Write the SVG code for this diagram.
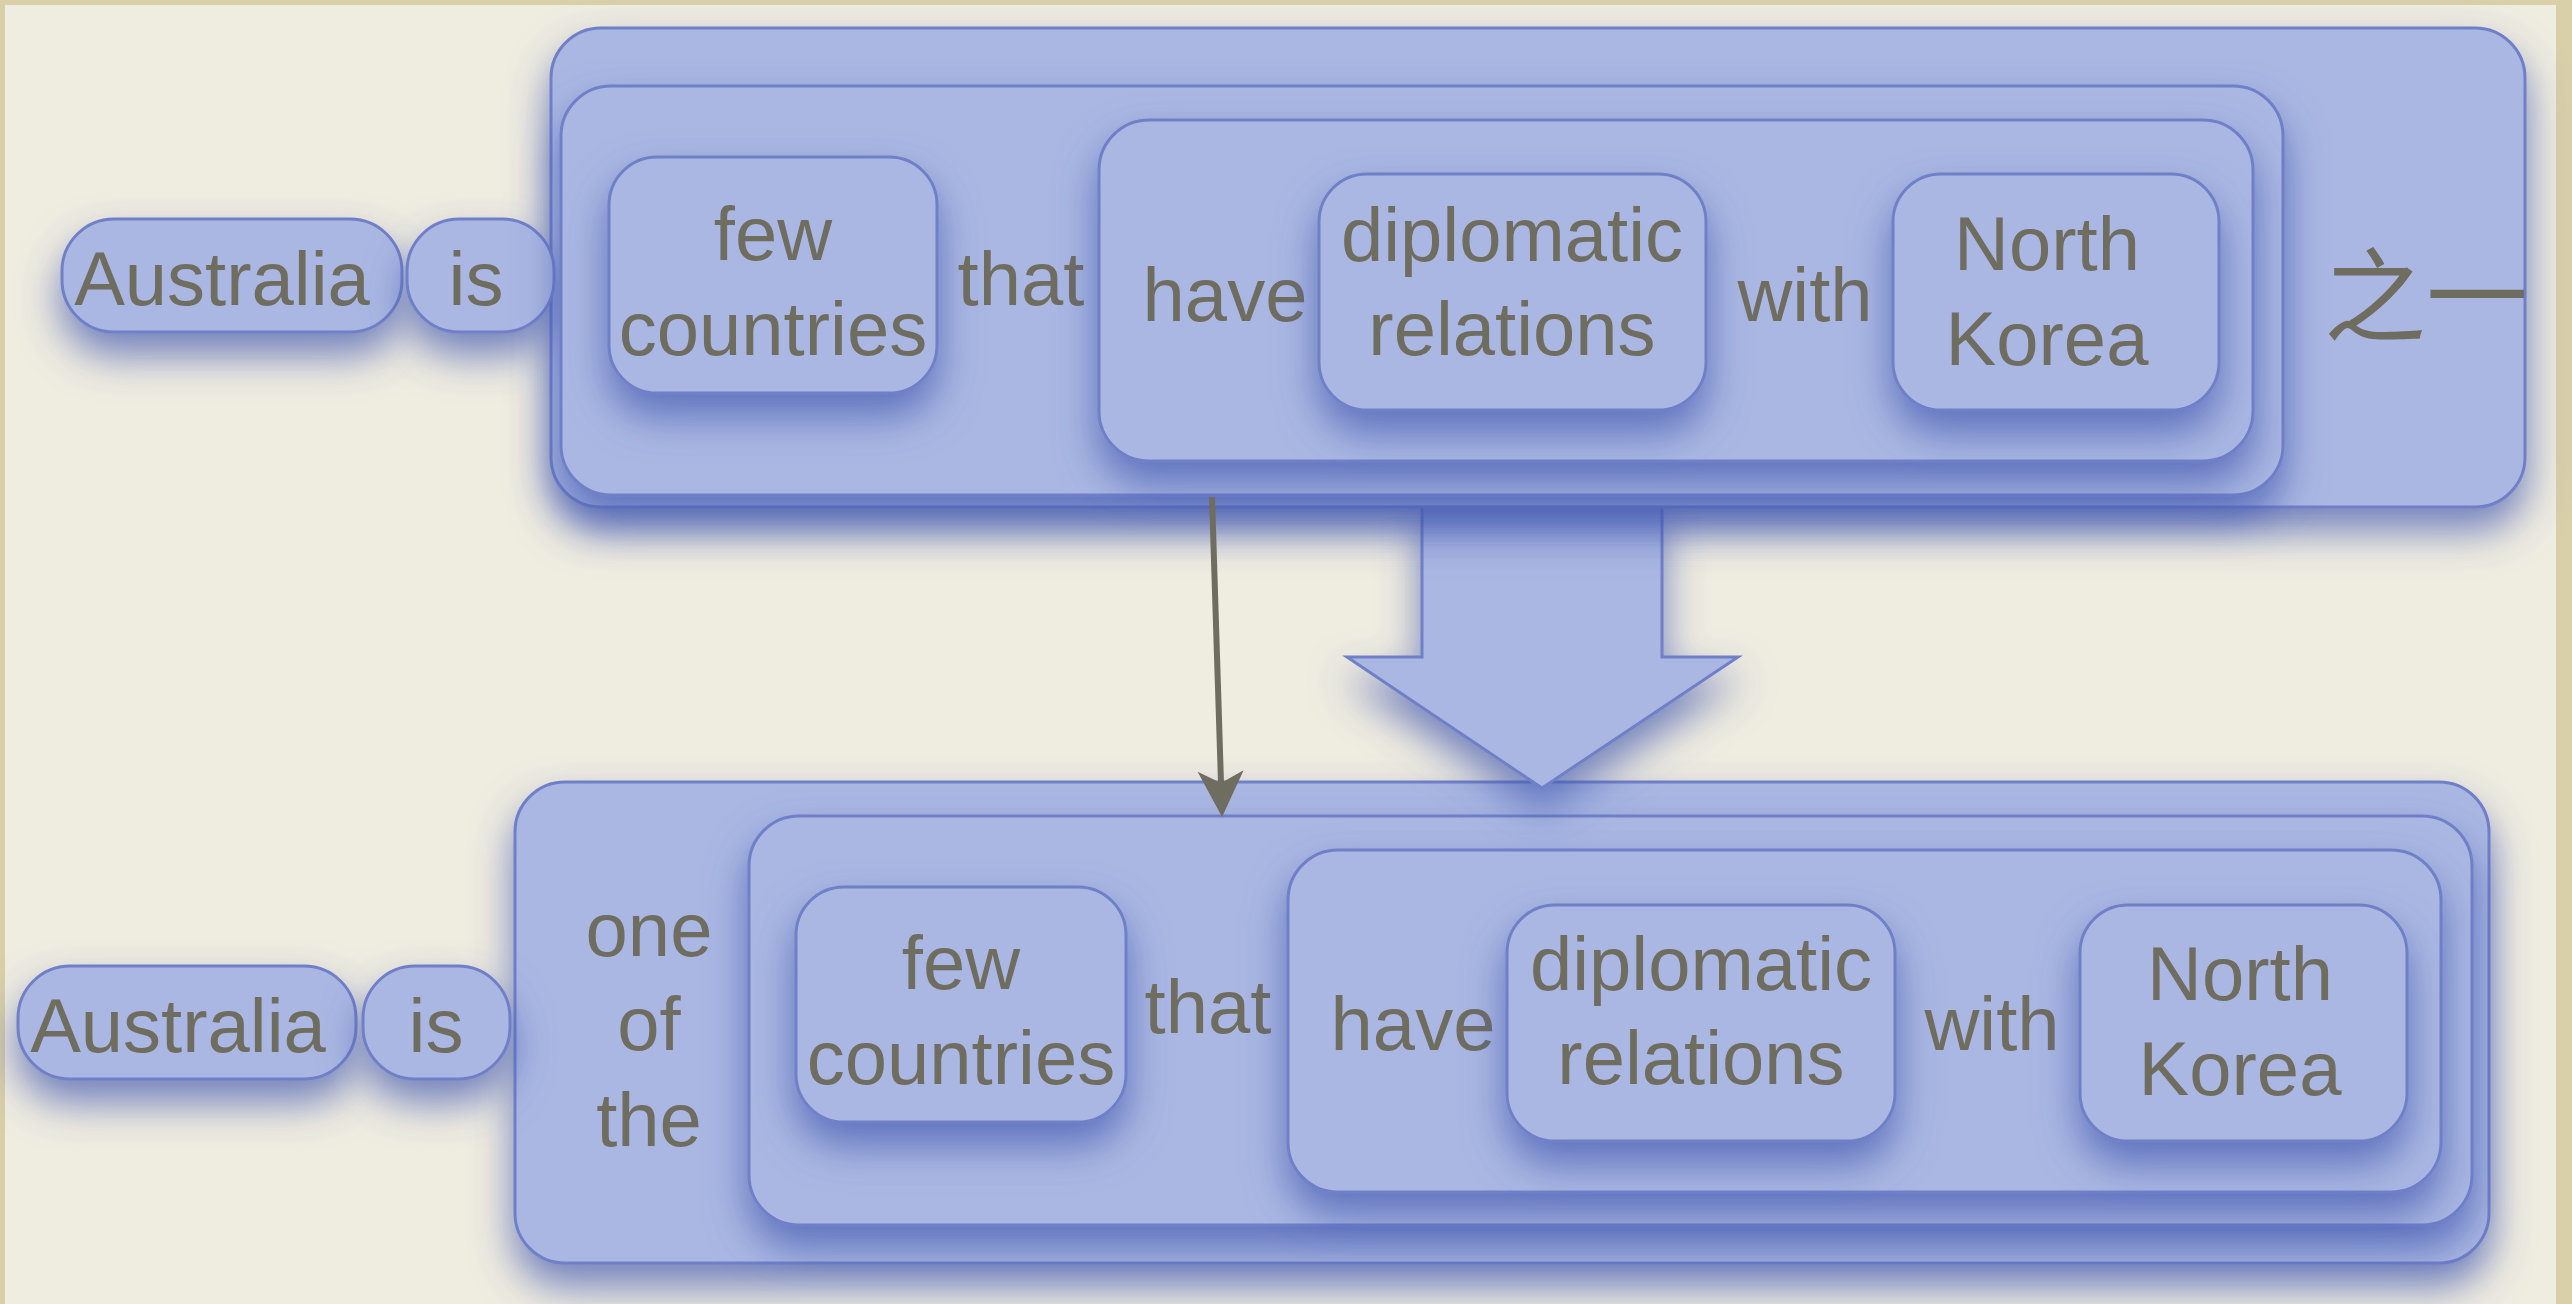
<svg xmlns="http://www.w3.org/2000/svg" width="2572" height="1304" viewBox="0 0 2572 1304">
<defs>
<style>
.box{fill:#aab7e2;stroke:#7080c8;stroke-width:3;filter:url(#sh)}
.t{font-family:"Liberation Sans",Arial,sans-serif;font-size:76px;fill:#6f6c60;text-anchor:middle}
.cjk{font-family:"Noto Sans CJK SC","Noto Sans CJK JP",sans-serif;font-size:102px;fill:#6f6c60}
</style>
<filter id="sh" filterUnits="userSpaceOnUse" x="-100" y="-100" width="2800" height="1550">
<feDropShadow dx="0" dy="22" stdDeviation="20" flood-color="#4258b0" flood-opacity="0.72"/>
</filter>
<marker id="ah" viewBox="-48 -25 50 50" markerWidth="50" markerHeight="50" refX="-34" refY="0" orient="auto" markerUnits="userSpaceOnUse">
<path d="M0,0 L-46,-23 L-34,0 L-46,23 Z" fill="#6f6c60"/>
</marker>
</defs>
<rect x="0" y="0" width="2572" height="1304" fill="#d9cfa9"/>
<rect x="5" y="5" width="2551" height="1299" fill="#efece0"/>

<g id="bottom">
<g id="D"><rect class="box" x="515" y="782" width="1974" height="481" rx="50"/></g>
<g id="bAustralia"><rect class="box" x="18" y="966" width="338" height="113" rx="52"/><text class="t" x="178" y="1052">Australia</text></g>
<g id="bis"><rect class="box" x="363" y="966" width="147" height="113" rx="52"/><text class="t" x="436" y="1052">is</text></g>
<g id="bonethe"><text class="t" x="649" y="956">one</text><text class="t" x="649" y="1050">of</text><text class="t" x="649" y="1146">the</text></g>
<g id="E"><rect class="box" x="749" y="816" width="1723" height="409" rx="50"/></g>
<g id="bfew"><rect class="box" x="796" y="887" width="330" height="235" rx="48"/><text class="t" x="961" y="989">few</text><text class="t" x="961" y="1084">countries</text></g>
<g id="bthat"><text class="t" x="1208" y="1033">that</text></g>
<g id="F"><rect class="box" x="1288" y="850" width="1153" height="342" rx="50"/></g>
<g id="bhave"><text class="t" x="1413" y="1050">have</text></g>
<g id="bdipl"><rect class="box" x="1507" y="905" width="388" height="236" rx="48"/><text class="t" x="1701" y="990">diplomatic</text><text class="t" x="1701" y="1084">relations</text></g>
<g id="bwith"><text class="t" x="1992" y="1050">with</text></g>
<g id="bnk"><rect class="box" x="2080" y="905" width="327" height="236" rx="48"/><text class="t" x="2240" y="1000">North</text><text class="t" x="2240" y="1095">Korea</text></g>
</g>

<g id="blockarrow"><polygon class="box" points="1422,495 1662,495 1662,657 1738,657 1542,788 1347,657 1422,657"/></g>

<g id="top">
<g id="A"><rect class="box" x="551" y="28" width="1974" height="479" rx="50"/></g>
<g id="tAustralia"><rect class="box" x="62" y="219" width="340" height="113" rx="52"/><text class="t" x="222" y="305">Australia</text></g>
<g id="tis"><rect class="box" x="407" y="219" width="147" height="113" rx="52"/><text class="t" x="476" y="305">is</text></g>
<g id="B"><rect class="box" x="561" y="86" width="1722" height="409" rx="50"/></g>
<g id="tfew"><rect class="box" x="609" y="157" width="328" height="236" rx="48"/><text class="t" x="773" y="260">few</text><text class="t" x="773" y="355">countries</text></g>
<g id="tthat"><text class="t" x="1021" y="305">that</text></g>
<g id="C"><rect class="box" x="1099" y="120" width="1154" height="341" rx="50"/></g>
<g id="thave"><text class="t" x="1225" y="321">have</text></g>
<g id="tdipl"><rect class="box" x="1319" y="174" width="387" height="236" rx="48"/><text class="t" x="1512" y="261">diplomatic</text><text class="t" x="1512" y="355">relations</text></g>
<g id="twith"><text class="t" x="1805" y="321">with</text></g>
<g id="tnk"><rect class="box" x="1893" y="174" width="326" height="236" rx="48"/><text class="t" x="2047" y="270">North</text><text class="t" x="2047" y="365">Korea</text></g>
<g id="tzhiyi"><text class="cjk" x="2324" y="334">之一</text></g>
</g>

<g id="connectors">
<line x1="1212" y1="497" x2="1221" y2="783" stroke="#6f6c60" stroke-width="6" marker-end="url(#ah)"/>
</g>
</svg>
